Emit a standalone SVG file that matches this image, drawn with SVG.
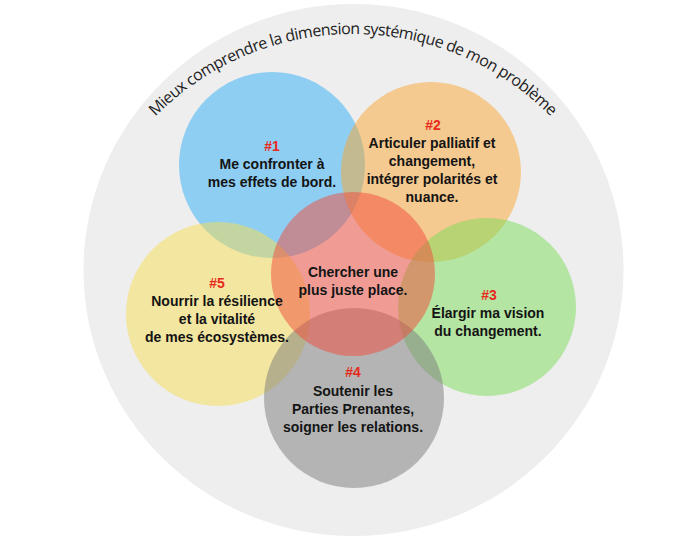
<svg xmlns="http://www.w3.org/2000/svg" xmlns:xlink="http://www.w3.org/1999/xlink" width="700" height="550" viewBox="0 0 700 550">
<style>
.c{fill-opacity:0.5}
.lbl{font-family:"Liberation Sans",Arial,sans-serif;font-weight:bold;font-size:14px;fill:#141414;text-anchor:middle}
.num{fill:#e8291c}
.arc{font-family:"Open Sans","DejaVu Sans",sans-serif;font-size:16px;fill:#222222}
</style>
<defs>
<path id="arcPath" d="M 88.6,226.1 A 278,278 0 0 1 617.4,226.1"/>
</defs>
<rect width="700" height="550" fill="#ffffff"/>
<g id="outer">
<ellipse cx="353.5" cy="270" rx="270" ry="266" fill="#eeeeee"/>
<text class="arc"><textPath xlink:href="#arcPath" href="#arcPath" startOffset="50%" text-anchor="middle" textLength="440" lengthAdjust="spacing">Mieux comprendre la dimension systémique de mon problème</textPath></text>
</g>
<g id="n1"><circle class="c" cx="272" cy="165" r="93" fill="#30aef8"/></g>
<g id="n2"><circle class="c" cx="431" cy="172" r="90" fill="#faa632"/></g>
<g id="n5"><circle class="c" cx="218" cy="314" r="92" fill="#f8de52"/></g>
<g id="n3"><circle class="c" cx="487" cy="307" r="89" fill="#7adc58"/></g>
<g id="n4"><circle class="c" cx="354" cy="398" r="90" fill="#7a7a7a"/></g>
<g id="n0"><circle class="c" cx="353" cy="274" r="82" fill="#f24a3a"/></g>
<g id="labels">
<text class="lbl num" x="272" y="151">#1</text>
<text class="lbl" x="272" y="169">Me confronter à</text>
<text class="lbl" x="272" y="187">mes effets de bord.</text>
<text class="lbl num" x="433" y="130">#2</text>
<text class="lbl" x="432" y="148">Articuler palliatif et</text>
<text class="lbl" x="432" y="166">changement,</text>
<text class="lbl" x="432" y="184">intégrer polarités et</text>
<text class="lbl" x="432" y="202">nuance.</text>
<text class="lbl" x="353" y="277">Chercher une</text>
<text class="lbl" x="353" y="295">plus juste place.</text>
<text class="lbl num" x="217" y="288">#5</text>
<text class="lbl" x="217" y="306">Nourrir la résilience</text>
<text class="lbl" x="217" y="324">et la vitalité</text>
<text class="lbl" x="217" y="342">de mes écosystèmes.</text>
<text class="lbl num" x="489" y="300">#3</text>
<text class="lbl" x="488" y="318">Élargir ma vision</text>
<text class="lbl" x="488" y="336">du changement.</text>
<text class="lbl num" x="353" y="377">#4</text>
<text class="lbl" x="353" y="396">Soutenir les</text>
<text class="lbl" x="353" y="414">Parties Prenantes,</text>
<text class="lbl" x="353" y="432">soigner les relations.</text>
</g>
</svg>
